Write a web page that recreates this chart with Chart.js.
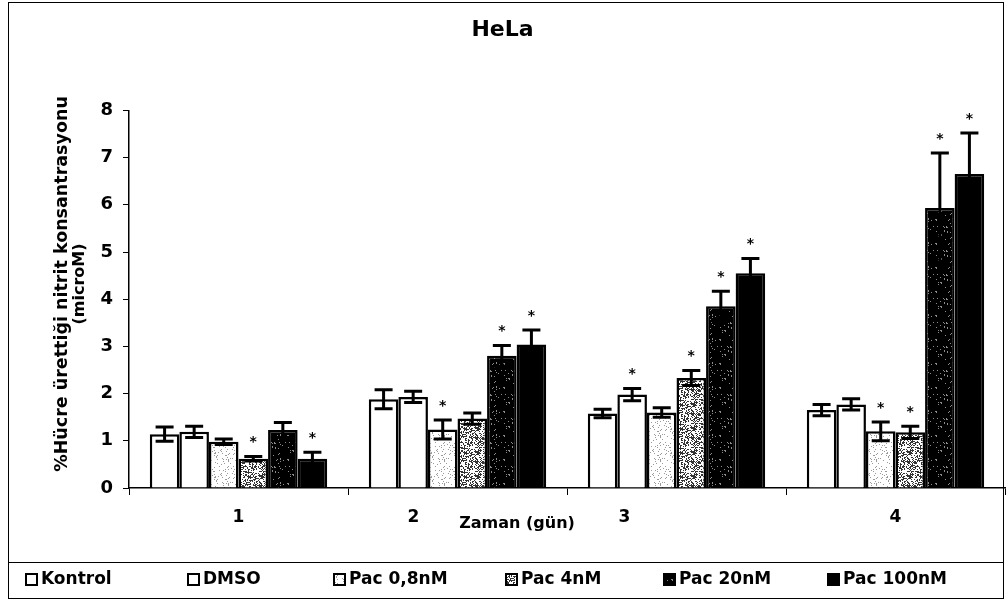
<!DOCTYPE html>
<html>
<head>
<meta charset="utf-8">
<script src="https://cdn.jsdelivr.net/npm/chart.js@4.4.0/dist/chart.umd.min.js"></script>
<style>
  html, body { margin: 0; padding: 0; background: #fff; }
  #wrap { width: 1007px; height: 603px; position: relative; }
</style>
</head>
<body>
<div id="wrap"><canvas id="c"></canvas></div>
<script>
// data
const days = ['1', '2', '3', '4'];
const yTicks = [0, 1, 2, 3, 4, 5, 6, 7, 8];
const xTitle = 'Zaman (gün)';
const yTitle = ['%Hücre ürettiği nitrit konsantrasyonu', '(microM)'];

const kontrol = [1.14, 1.88, 1.58, 1.65];
const kontrolErr = [0.15, 0.20, 0.09, 0.12];
const kontrolSig = [false, false, false, false];

const dmso = [1.19, 1.93, 1.98, 1.77];
const dmsoErr = [0.12, 0.12, 0.13, 0.12];
const dmsoSig = [false, false, true, false];

const pac08 = [0.98, 1.24, 1.60, 1.20];
const pac08Err = [0.06, 0.20, 0.10, 0.20];
const pac08Sig = [false, true, false, true];

const pac4 = [0.62, 1.47, 2.33, 1.18];
const pac4Err = [0.05, 0.12, 0.16, 0.13];
const pac4Sig = [true, false, true, true];

const pac20 = [1.23, 2.80, 3.85, 5.93];
const pac20Err = [0.16, 0.22, 0.32, 1.17];
const pac20Sig = [false, true, true, true];

const pac100 = [0.62, 3.04, 4.55, 6.65];
const pac100Err = [0.14, 0.31, 0.31, 0.87];
const pac100Sig = [true, true, true, true];

const fam = '"DejaVu Sans", Arial, sans-serif';

// speckled fills like the scanned hatching
function speckle(bg, fg, density, seed) {
  const c = document.createElement('canvas');
  c.width = 24; c.height = 24;
  const g = c.getContext('2d');
  g.fillStyle = bg;
  g.fillRect(0, 0, 24, 24);
  g.fillStyle = fg;
  let s = seed;
  for (let y = 0; y < 24; y++) {
    for (let x = 0; x < 24; x++) {
      s = (s * 1103515245 + 12345) & 0x7fffffff;
      if ((s % 1000) / 1000 < density) g.fillRect(x, y, 1, 1);
    }
  }
  return g.createPattern(c, 'repeat');
}

const ctx = document.getElementById('c').getContext('2d');

const fills = [
  '#ffffff',
  '#ffffff',
  speckle('#ffffff', '#9a9a9a', 0.12, 7),
  speckle('#ffffff', '#333333', 0.42, 11),
  speckle('#000000', '#8a8a8a', 0.05, 3),
  '#000000'
];

function ds(label, data, errors, sig, fill) {
  return {
    label, data, errors, sig,
    backgroundColor: fill,
    borderColor: '#000',
    borderWidth: 2.5,
    categoryPercentage: 0.81,
    barPercentage: 1.0
  };
}

const errorBars = {
  id: 'errorBars',
  afterDatasetsDraw(chart) {
    const { ctx, scales: { y } } = chart;
    ctx.save();
    ctx.strokeStyle = '#000';
    ctx.fillStyle = '#000';
    ctx.lineWidth = 3;
    chart.data.datasets.forEach((d, i) => {
      const meta = chart.getDatasetMeta(i);
      meta.data.forEach((bar, j) => {
        const v = d.data[j], e = d.errors[j];
        const top = y.getPixelForValue(v + e);
        const bot = y.getPixelForValue(v - e);
        const x = bar.x;
        ctx.beginPath();
        ctx.moveTo(x, top); ctx.lineTo(x, bot);
        ctx.moveTo(x - 9, top); ctx.lineTo(x + 9, top);
        ctx.moveTo(x - 9, bot); ctx.lineTo(x + 9, bot);
        ctx.stroke();
        if (d.sig[j]) {
          ctx.font = 'bold 14px ' + fam;
          ctx.textAlign = 'center';
          ctx.textBaseline = 'middle';
          ctx.fillText('*', x, top - 14);
        }
      });
    });
    ctx.restore();
  }
};

// category labels, axis titles, legend box and outer frame as in the scan
const nudge = [0, -44, -52, 0];
const legendX = [26, 188, 334, 506, 664, 828];

const decor = {
  id: 'decor',
  afterDraw(chart) {
    const { ctx, scales: { x } } = chart;
    ctx.save();
    ctx.fillStyle = '#000';
    ctx.textBaseline = 'middle';
    ctx.textAlign = 'center';
    ctx.font = 'bold 17px ' + fam;
    days.forEach((d, i) => {
      ctx.fillText(d, x.getPixelForTick(i) + nudge[i], 518);
    });
    ctx.font = 'bold 16px ' + fam;
    ctx.fillText(xTitle, 517, 524);

    ctx.save();
    ctx.font = 'bold 17.5px ' + fam;
    ctx.translate(62, 284);
    ctx.rotate(-Math.PI / 2);
    ctx.fillText(yTitle[0], 0, 0);
    ctx.font = 'bold 16px ' + fam;
    ctx.fillText(yTitle[1], 0, 18);
    ctx.restore();

    ctx.textAlign = 'left';
    ctx.font = 'bold 17px ' + fam;
    chart.data.datasets.forEach((d, i) => {
      const bx = legendX[i];
      ctx.fillStyle = d.backgroundColor;
      ctx.fillRect(bx, 574, 11, 11);
      ctx.strokeStyle = '#000';
      ctx.lineWidth = 2;
      ctx.strokeRect(bx, 574, 11, 11);
      ctx.fillStyle = '#000';
      ctx.fillText(d.label, bx + 15, 580);
    });

    ctx.strokeStyle = '#000';
    ctx.lineWidth = 1;
    ctx.strokeRect(8.5, 2.5, 995, 596);
    ctx.beginPath();
    ctx.moveTo(8, 562.5); ctx.lineTo(1004, 562.5);
    ctx.stroke();
    ctx.restore();
  }
};

new Chart(ctx, {
  type: 'bar',
  data: {
    labels: days,
    datasets: [
      ds('Kontrol', kontrol, kontrolErr, kontrolSig, fills[0]),
      ds('DMSO', dmso, dmsoErr, dmsoSig, fills[1]),
      ds('Pac 0,8nM', pac08, pac08Err, pac08Sig, fills[2]),
      ds('Pac 4nM', pac4, pac4Err, pac4Sig, fills[3]),
      ds('Pac 20nM', pac20, pac20Err, pac20Sig, fills[4]),
      ds('Pac 100nM', pac100, pac100Err, pac100Sig, fills[5])
    ]
  },
  options: {
    responsive: true,
    maintainAspectRatio: false,
    animation: false,
    layout: { padding: { left: 0, right: 2, top: 0, bottom: 5 } },
    plugins: {
      title: {
        display: true,
        text: 'HeLa',
        color: '#000',
        font: { family: fam, size: 22, weight: 'bold' },
        padding: { top: 17, bottom: 67 }
      },
      legend: { display: false },
      tooltip: { enabled: false }
    },
    scales: {
      x: {
        afterFit(scale) { scale.height = 110; },
        grid: { display: true, drawOnChartArea: false, offset: true, color: '#000', tickLength: 7 },
        border: { display: true, color: '#000', width: 1.5 },
        ticks: { display: false }
      },
      y: {
        min: 0,
        max: 8,
        afterBuildTicks(scale) { scale.ticks = yTicks.map(v => ({ value: v })); },
        afterFit(scale) { scale.width = 129; },
        grid: { display: true, drawOnChartArea: false, color: '#000', tickLength: 6 },
        border: { display: true, color: '#000', width: 1.5 },
        ticks: { color: '#000', padding: 10, font: { family: fam, size: 18, weight: 'bold' } },
        title: { display: false }
      }
    }
  },
  plugins: [errorBars, decor]
});
</script>
</body>
</html>
